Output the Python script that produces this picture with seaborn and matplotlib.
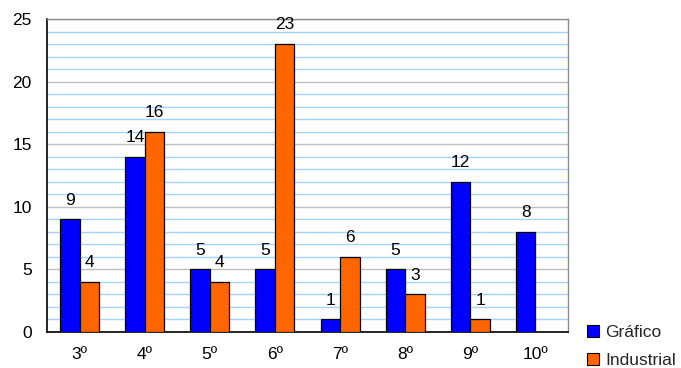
import matplotlib
matplotlib.use("Agg")
import matplotlib.pyplot as plt
from matplotlib.ticker import MultipleLocator, FixedLocator
from matplotlib.patches import Patch
import seaborn as sns
import pandas as pd
import numpy as np

categories = ["3º", "4º", "5º", "6º", "7º", "8º", "9º", "10º"]
grafico = [9, 14, 5, 5, 1, 5, 12, 8]
industrial = [4, 16, 4, 23, 6, 3, 1, np.nan]
series_names = ["Gráfico", "Industrial"]
colors = ["#0000FF", "#FF6600"]

df = pd.DataFrame({
    "curso": categories * 2,
    "valor": grafico + industrial,
    "serie": [series_names[0]] * len(categories) + [series_names[1]] * len(categories),
})

sns.set_theme(style="white")
plt.rcParams["font.family"] = ["Liberation Sans", "DejaVu Sans"]

W, H = 681, 368
fig = plt.figure(figsize=(W / 100, H / 100), dpi=100)
ax = fig.add_axes([47 / W, 1 - 332 / H, (568 - 47) / W, (332 - 19) / H])

sns.barplot(data=df, x="curso", y="valor", hue="serie", palette=colors,
            saturation=1, width=0.6, edgecolor="black", linewidth=0.9, ax=ax,
            legend=False, zorder=3)

ax.set_ylim(0, 25)
ax.set_xlim(-0.5, len(categories) - 0.5)
ax.yaxis.set_major_locator(MultipleLocator(5))
ax.yaxis.set_minor_locator(MultipleLocator(1))
ax.grid(which="minor", axis="y", color="#A6D2FF", linewidth=1.0, zorder=0)
ax.grid(which="major", axis="y", color="#BEBEBE", linewidth=1.0, zorder=0)
ax.set_axisbelow(True)

# x ticks at category boundaries, labels centred below each group
ax.xaxis.set_major_locator(FixedLocator(np.arange(-0.5, len(categories), 1.0)))
ax.set_xticklabels([])
ax.xaxis.set_minor_locator(FixedLocator(np.arange(len(categories))))
ax.set_xticklabels(categories, minor=True)
ax.tick_params(axis="x", which="major", length=5, width=1, color="black", direction="out")
ax.tick_params(axis="x", which="minor", length=0, labelsize=12.5, pad=11, labelcolor="black")
ax.tick_params(axis="y", which="major", length=5, width=1, color="black", direction="out",
               labelsize=12.5, labelcolor="black", pad=6)
ax.tick_params(axis="y", which="minor", length=0)

ax.set_xlabel("")
ax.set_ylabel("")

for side in ["left", "bottom"]:
    ax.spines[side].set_color("black")
    ax.spines[side].set_linewidth(1.2)
for side in ["top", "right"]:
    ax.spines[side].set_color("#8C8C8C")
    ax.spines[side].set_linewidth(1.0)

for cont in ax.containers:
    labels = [f"{v:g}" if np.isfinite(v) and v > 0 else "" for v in cont.datavalues]
    ax.bar_label(cont, labels=labels, padding=8.5, fontsize=12.5, color="black")

handles = [Patch(facecolor=c, edgecolor="black", linewidth=0.8) for c in colors]
fig.legend(handles, series_names, loc="lower left", bbox_to_anchor=(580 / W, -0.02),
           frameon=False, fontsize=12.5, handlelength=0.7, handleheight=0.7,
           handletextpad=0.35, labelspacing=0.75, borderaxespad=0.0)

fig.savefig("out.png", dpi=100, facecolor="white")
